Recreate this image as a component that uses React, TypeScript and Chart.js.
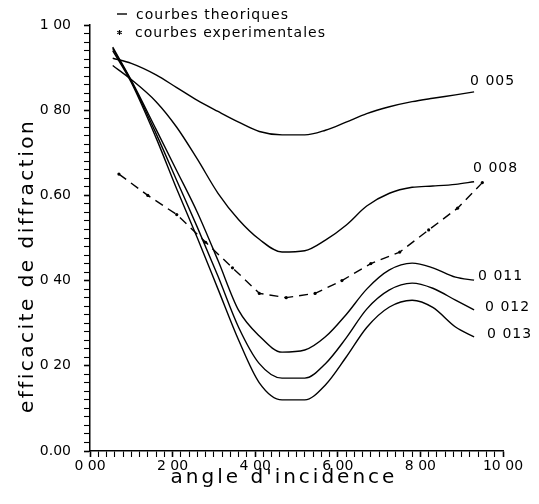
import React, { useEffect, useRef } from "react";
import { Chart, registerables } from "chart.js";

Chart.register(...registerables);

// ---- data ----
const angles = [0.55, 1.0, 1.6, 2.1, 2.6, 3.1, 3.6, 4.1, 4.65, 5.2, 5.7, 6.2, 6.7, 7.25, 7.8, 8.3, 8.85, 9.3];
const curve005 = [0.922, 0.91, 0.883, 0.853, 0.823, 0.797, 0.772, 0.75, 0.742, 0.742, 0.753, 0.772, 0.792, 0.808, 0.82, 0.828, 0.836, 0.843];
const curve008 = [0.905, 0.872, 0.82, 0.76, 0.685, 0.605, 0.543, 0.497, 0.467, 0.47, 0.495, 0.53, 0.575, 0.605, 0.619, 0.622, 0.626, 0.632];
const curve011 = [0.948, 0.87, 0.755, 0.658, 0.56, 0.447, 0.33, 0.27, 0.232, 0.237, 0.268, 0.32, 0.38, 0.425, 0.441, 0.43, 0.408, 0.401];
const curve012 = [0.945, 0.868, 0.745, 0.635, 0.525, 0.41, 0.29, 0.205, 0.171, 0.171, 0.205, 0.265, 0.333, 0.378, 0.394, 0.382, 0.354, 0.331];
const curve013 = [0.94, 0.865, 0.735, 0.615, 0.5, 0.38, 0.26, 0.16, 0.12, 0.12, 0.155, 0.22, 0.29, 0.338, 0.354, 0.337, 0.291, 0.268];
const expAngles = [0.7, 1.4, 2.1, 2.8, 3.45, 4.1, 4.75, 5.45, 6.1, 6.8, 7.5, 8.2, 8.9, 9.5];
const expValues = [0.65, 0.6, 0.555, 0.49, 0.43, 0.37, 0.36, 0.37, 0.4, 0.44, 0.467, 0.519, 0.57, 0.63];

const curveNames = ["0 005", "0 008", "0 011", "0 012", "0 013"];
const xTickLabels = ["0 00", "2 00", "4 00", "6 00", "8 00", "10 00"];
const yTickLabels = ["0.00", "0 20", "0 40", "0.60", "0 80", "1 00"];
const legendLabels = ["courbes theoriques", "courbes experimentales"];
const xTitle = "angle d'incidence";
const yTitle = "efficacite de diffraction";

const FONT = '"DejaVu Sans", sans-serif';

const curves = [curve005, curve008, curve011, curve012, curve013];

function setSpacing(ctx: any, v: string) {
  try {
    ctx.letterSpacing = v;
  } catch (e) {}
}

const decorPlugin = {
  id: "decor",
  afterDraw(chart: any) {
    const ctx = chart.ctx;
    ctx.save();
    ctx.strokeStyle = "#000";
    ctx.fillStyle = "#000";

    // curve labels near the ends of the theoretical curves
    const offsets = [
      [-4, -7],
      [-1, -10],
      [4, 0],
      [11, 1],
      [13, 1],
    ];
    ctx.font = `14px ${FONT}`;
    setSpacing(ctx, "1px");
    ctx.textAlign = "left";
    ctx.textBaseline = "alphabetic";
    curveNames.forEach((name, i) => {
      const meta = chart.getDatasetMeta(i);
      const last = meta.data[meta.data.length - 1];
      ctx.fillText(name, last.x + offsets[i][0], last.y + offsets[i][1]);
    });

    // legend
    ctx.lineWidth = 1.4;
    ctx.beginPath();
    ctx.moveTo(117, 14);
    ctx.lineTo(127, 14);
    ctx.stroke();
    const sx = 119.5;
    const sy = 32.5;
    ctx.lineWidth = 1.1;
    ctx.beginPath();
    for (let k = 0; k < 3; k++) {
      const ang = (Math.PI / 3) * k + Math.PI / 2;
      ctx.moveTo(sx - 2.6 * Math.cos(ang), sy - 2.6 * Math.sin(ang));
      ctx.lineTo(sx + 2.6 * Math.cos(ang), sy + 2.6 * Math.sin(ang));
    }
    ctx.stroke();
    ctx.fillText(legendLabels[0], 136, 19);
    ctx.fillText(legendLabels[1], 135, 37);

    // axis titles
    ctx.font = `20px ${FONT}`;
    setSpacing(ctx, "3px");
    ctx.textAlign = "center";
    ctx.fillText(xTitle, 284, 483);
    setSpacing(ctx, "2.5px");
    ctx.translate(33, 266);
    ctx.rotate(-Math.PI / 2);
    ctx.fillText(yTitle, 0, 0);
    ctx.restore();
  },
};

const gridOpts = {
  display: true,
  drawOnChartArea: false,
  drawTicks: true,
  tickLength: 6,
  tickColor: "#000",
  tickWidth: (c: any) => (c.index % 10 === 0 ? 1.6 : 1.1),
};

export default function App() {
  const ref = useRef<HTMLCanvasElement | null>(null);

  useEffect(() => {
    if (!ref.current) return;
    const theo = curves.map((vals, i) => ({
      label: curveNames[i],
      data: angles.map((a, j) => ({ x: a, y: vals[j] })),
      borderColor: "#000",
      backgroundColor: "#000",
      borderWidth: 1.4,
      pointRadius: 0,
      cubicInterpolationMode: "monotone",
      fill: false,
    }));
    const exp = {
      label: "experimental",
      data: expAngles.map((a, j) => ({ x: a, y: expValues[j] })),
      borderColor: "#000",
      backgroundColor: "#000",
      borderWidth: 1.4,
      borderDash: [9, 6],
      pointRadius: 1.6,
      pointBorderWidth: 0,
      pointBackgroundColor: "#000",
      tension: 0,
      fill: false,
    };

    const chart = new Chart(ref.current, {
      type: "line",
      data: { datasets: [...theo, exp] as any },
      plugins: [decorPlugin as any],
      options: {
        animation: false,
        responsive: false,
        devicePixelRatio: 1,
        layout: { padding: { top: 25, right: 36 } },
        plugins: {
          legend: { display: false },
          tooltip: { enabled: false },
        },
        scales: {
          x: {
            type: "linear",
            min: 0,
            max: 10,
            afterBuildTicks: (scale: any) => {
              const t = [];
              for (let i = 0; i <= 50; i++) t.push({ value: i / 5 });
              scale.ticks = t;
            },
            afterFit: (scale: any) => {
              scale.height = 53;
            },
            grid: gridOpts,
            border: { display: true, color: "#000", width: 1.5 },
            ticks: {
              autoSkip: false,
              maxRotation: 0,
              minRotation: 0,
              padding: 1,
              color: "#000",
              font: { family: FONT, size: 14 },
              callback: (_v: any, i: number) => (i % 10 === 0 ? xTickLabels[i / 10] : ""),
            },
          },
          y: {
            type: "linear",
            min: 0,
            max: 1,
            afterBuildTicks: (scale: any) => {
              const t = [];
              for (let i = 0; i <= 50; i++) t.push({ value: i / 50 });
              scale.ticks = t;
            },
            afterFit: (scale: any) => {
              scale.width = 90;
            },
            grid: gridOpts,
            border: { display: true, color: "#000", width: 1.5 },
            ticks: {
              autoSkip: false,
              padding: 13,
              color: "#000",
              font: { family: FONT, size: 14 },
              callback: (_v: any, i: number) => (i % 10 === 0 ? yTickLabels[i / 10] : ""),
            },
          },
        },
      } as any,
    });
    return () => chart.destroy();
  }, []);

  return (
    <div style={{ position: "fixed", left: 0, top: 0, width: 539, height: 504, background: "#fff" }}>
      <canvas ref={ref} width={539} height={504} style={{ display: "block", width: 539, height: 504 }} />
    </div>
  );
}
